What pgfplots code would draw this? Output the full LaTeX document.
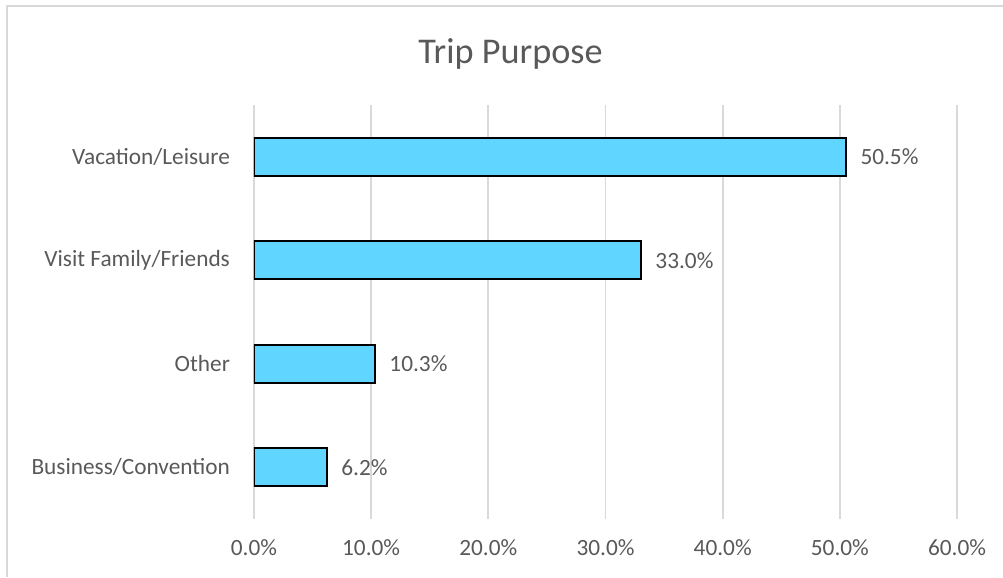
\documentclass[border=0pt]{standalone}
\usepackage{pgfplots}
\pgfplotsset{compat=1.18}
\usepackage{fontspec}
\setmainfont{Carlito}
\definecolor{txt}{HTML}{595959}
\definecolor{gridc}{HTML}{D9D9D9}
\definecolor{barfill}{HTML}{5FD5FF}
\begin{document}
\begin{tikzpicture}[x=0.3863pt,y=0.3863pt]
  % page = 1003 x 577 px, 1 px = 0.3863 pt
  \useasboundingbox (0,0) rectangle (1003,577);
  \draw[gridc, line width=0.6pt] (7,0) -- (7,571) -- (1003,571);
  \node[txt, font=\fontsize{14}{16}\selectfont] at (510.5,523) {Trip Purpose};
  \begin{axis}[
    at={(98.12pt,22.41pt)}, anchor=south west,
    scale only axis,
    width=271.6pt, height=159.9pt,
    xbar,
    bar width=14.7pt,
    xmin=0, xmax=60,
    ymin=-0.5, ymax=3.5,
    xtick={0,10,20,30,40,50,60},
    xticklabels={0.0\%,10.0\%,20.0\%,30.0\%,40.0\%,50.0\%,60.0\%},
    ytick={0,1,2,3},
    yticklabels={Business/Convention,Other,Visit Family/Friends,Vacation/Leisure},
    xmajorgrids, ymajorgrids=false,
    major grid style={draw=gridc, line width=0.75pt},
    axis line style={draw=none},
    major tick style={draw=none},
    tick label style={txt, font=\fontsize{9}{11}\selectfont},
    xticklabel style={yshift=-4.5pt},
    yticklabel style={xshift=-1.5pt},
    point meta=x,
    nodes near coords={\pgfmathprintnumber[fixed,fixed zerofill,precision=1,assume math mode=true]{\pgfplotspointmeta}\%},
    nodes near coords style={txt, font=\fontsize{9}{11}\selectfont, anchor=west, xshift=2pt},
  ]
    \addplot[fill=barfill, draw=black, line width=0.75pt] coordinates {
      (6.2,0) (10.3,1) (33.0,2) (50.5,3)
    };
  \end{axis}
\end{tikzpicture}
\end{document}
